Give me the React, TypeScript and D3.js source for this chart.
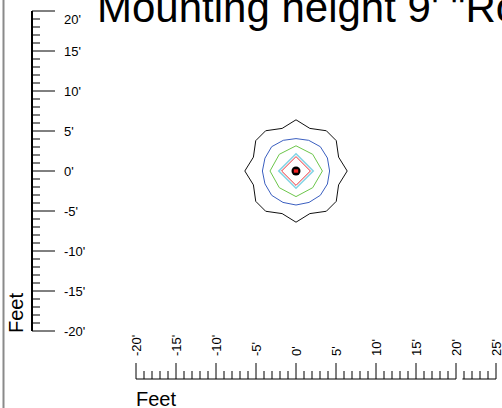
import React from "react";
import * as d3 from "d3";

const TITLE = `Mounting height 9' "Ro`;
const AXIS_LABEL = "Feet";
const X_TICK_VALUES = [-20, -15, -10, -5, 0, 5, 10, 15, 20, 25];
const Y_TICK_VALUES = [20, 15, 10, 5, 0, -5, -10, -15, -20];
const X_MINOR = d3.range(-20, 26, 1);
const Y_MINOR = d3.range(-20, 21, 1);

// contour outlines as [bearing deg from north, radius ft]
const BLACK_CONTOUR: [number, number][] = [
  [0, 6.4], [18, 5.6], [37, 6.3], [53, 6.3], [72, 5.6],
  [90, 6.4], [108, 5.6], [127, 6.3], [143, 6.3], [162, 5.6],
  [180, 6.4], [198, 5.6], [217, 6.3], [233, 6.3], [252, 5.6],
  [270, 6.4], [288, 5.6], [307, 6.3], [323, 6.3], [342, 5.6],
];
const BLUE_CONTOUR: [number, number][] = [
  [0, 4.05], [22.5, 4.15], [45, 4.3], [67.5, 4.25], [90, 4.2], [112.5, 4.25],
  [135, 4.3], [157.5, 4.25], [180, 4.25], [202.5, 4.25], [225, 4.3],
  [247.5, 4.2], [270, 4.2], [292.5, 4.2], [315, 4.3], [337.5, 4.15],
];
const GREEN_CONTOUR: [number, number][] = [
  [0, 3.15], [45, 2.95], [90, 3.3], [135, 2.95], [180, 3.2], [225, 2.95], [270, 3.25], [315, 2.95],
];
const CYAN_CONTOUR: [number, number][] = [[0, 2.15], [90, 2.15], [180, 2.15], [270, 2.15]];
const RED_CONTOUR: [number, number][] = [[0, 1.8], [90, 1.8], [180, 1.8], [270, 1.8]];

const CONTOURS = [
  { pts: BLACK_CONTOUR, color: "#111111", w: 1 },
  { pts: BLUE_CONTOUR, color: "#3b5fc0", w: 1 },
  { pts: GREEN_CONTOUR, color: "#6cc64a", w: 1 },
  { pts: CYAN_CONTOUR, color: "#84d4e6", w: 1.6 },
  { pts: RED_CONTOUR, color: "#e8333a", w: 1 },
];

const W = 502;
const H = 408;
const FONT = "'Liberation Sans', Arial, sans-serif";

export default function App() {
  const x = d3.scaleLinear().domain([-20, 25]).range([136, 496]);
  const y = d3.scaleLinear().domain([-20, 20]).range([331, 11]);
  const axisX = 32;
  const axisY = 379;

  const toXY = ([b, r]: [number, number]): [number, number] => {
    const a = (b * Math.PI) / 180;
    return [x(r * Math.sin(a)), y(r * Math.cos(a))];
  };
  const line = d3.line().curve(d3.curveLinearClosed);

  return (
    <svg
      width={W}
      height={H}
      style={{ position: "fixed", left: 0, top: 0, background: "#fff" }}
      fontFamily={FONT}
    >
      <rect x={0} y={0} width={W} height={H} fill="#fff" />
      <line x1={3.5} x2={3.5} y1={0} y2={H} stroke="#8a8a8a" strokeWidth={2} />

      <text x={97} y={22} fontSize={42} fill="#000">{TITLE}</text>

      {/* Y axis */}
      <line x1={axisX} x2={axisX} y1={y(20)} y2={y(-20)} stroke="#000" strokeWidth={2} />
      {Y_MINOR.map((v) => (
        <line key={"ym" + v} x1={axisX} x2={v % 5 === 0 ? 55 : 40} y1={y(v)} y2={y(v)} stroke="#000" strokeWidth={1} />
      ))}
      {Y_TICK_VALUES.map((v, i) => (
        <text key={"yl" + v} x={64} y={y(v) + (i === 0 ? 8 : 0)} dy="0.35em" fontSize={13} fill="#000">
          {v + "'"}
        </text>
      ))}
      <text transform={`translate(23,333) rotate(-90)`} fontSize={20} fill="#000">{AXIS_LABEL}</text>

      {/* X axis */}
      <line x1={x(-20)} x2={x(20)} y1={axisY} y2={axisY} stroke="#000" strokeWidth={1} />
      <line x1={x(20.8)} x2={x(25)} y1={axisY} y2={axisY} stroke="#000" strokeWidth={1} />
      {X_MINOR.map((v) => (
        <line key={"xm" + v} x1={x(v)} x2={x(v)} y1={axisY} y2={v % 5 === 0 ? axisY - 16 : axisY - 8} stroke="#000" strokeWidth={1} />
      ))}
      {X_TICK_VALUES.map((v) => (
        <text key={"xl" + v} transform={`translate(${x(v)},356) rotate(-90)`} dy="0.35em" fontSize={13} fill="#000">
          {v + "'"}
        </text>
      ))}
      <text x={136} y={406} fontSize={20} fill="#000">{AXIS_LABEL}</text>

      {/* contours */}
      {CONTOURS.map((c, i) => (
        <path key={"c" + i} d={line(c.pts.map(toXY)) || ""} fill="none" stroke={c.color} strokeWidth={c.w} />
      ))}
      <circle cx={x(0)} cy={y(0)} r={4.5} fill="#000" />
      <rect x={x(0) - 2.2} y={y(0) - 1.7} width={4.4} height={3.4} fill="#e22" />
    </svg>
  );
}
